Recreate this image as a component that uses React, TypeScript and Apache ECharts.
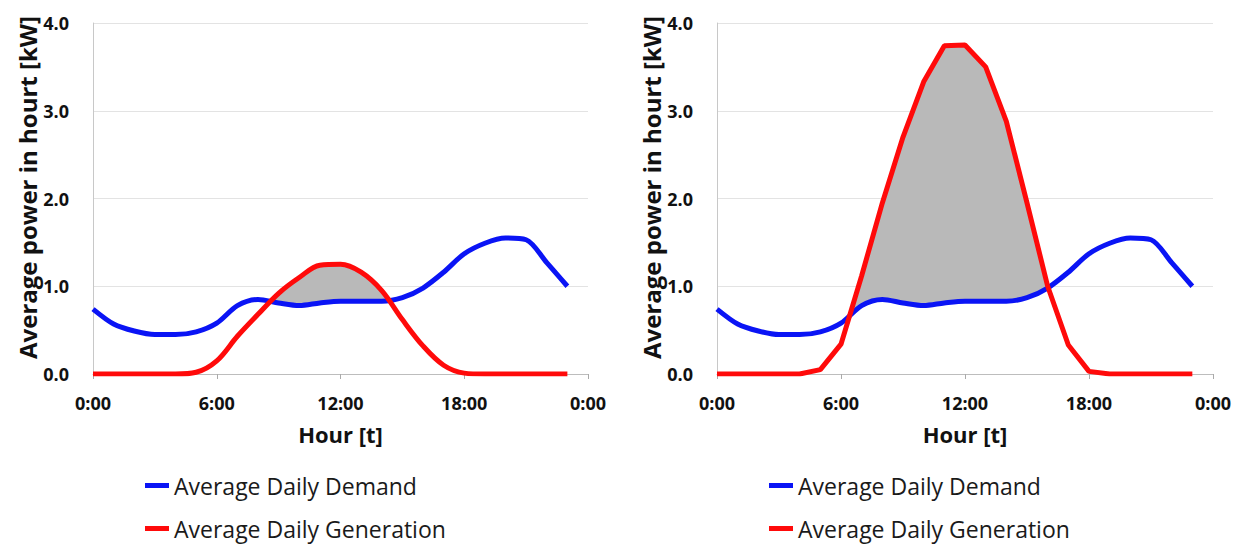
import React, { useEffect, useRef } from "react";
import * as echarts from "echarts";

const HOURS = [0, 1, 2, 3, 4, 5, 6, 7, 8, 9, 10, 11, 12, 13, 14, 15, 16, 17, 18, 19, 20, 21, 22, 23];
const DEMAND = [0.74, 0.57, 0.49, 0.45, 0.45, 0.48, 0.58, 0.78, 0.85, 0.81, 0.78, 0.81, 0.83, 0.83, 0.83, 0.87, 0.98, 1.16, 1.37, 1.49, 1.55, 1.53, 1.27, 1.0];
const GEN_LEFT = [0, 0, 0, 0, 0, 0.02, 0.15, 0.43, 0.68, 0.92, 1.1, 1.24, 1.25, 1.16, 0.95, 0.62, 0.32, 0.1, 0.01, 0, 0, 0, 0, 0];
const GEN_RIGHT = [0, 0, 0, 0, 0, 0.05, 0.34, 1.12, 1.95, 2.7, 3.33, 3.74, 3.75, 3.5, 2.88, 1.95, 1.0, 0.33, 0.03, 0, 0, 0, 0, 0];
const Y_TICKS = [0, 1, 2, 3, 4];
const X_TICK_STEP = 6;

const DEMAND_NAME = "Average Daily Demand";
const GEN_NAME = "Average Daily Generation";
const Y_NAME = "Average power in hourt [kW]";
const X_NAME = "Hour [t]";

function surplusPolys(gen: number[], dem: number[]) {
  const polys: number[][][] = [];
  let upper: number[][] | null = null;
  let lower: number[][] = [];
  const cross = (i: number) => {
    const dp = gen[i - 1] - dem[i - 1];
    const d = gen[i] - dem[i];
    const t = dp / (dp - d);
    const x = HOURS[i - 1] + t * (HOURS[i] - HOURS[i - 1]);
    const y = dem[i - 1] + t * (dem[i] - dem[i - 1]);
    return [x, y];
  };
  for (let i = 0; i < HOURS.length; i++) {
    const d = gen[i] - dem[i];
    if (d > 0) {
      if (!upper) {
        upper = [];
        lower = [];
        if (i > 0) {
          const p = cross(i);
          upper.push(p);
          lower.push(p);
        }
      }
      upper.push([HOURS[i], gen[i]]);
      lower.push([HOURS[i], dem[i]]);
    } else if (upper) {
      const p = cross(i);
      upper.push(p);
      polys.push(upper.concat(lower.slice().reverse()));
      upper = null;
    }
  }
  if (upper) polys.push(upper.concat(lower.slice().reverse()));
  return polys;
}

const FONT = "'Open Sans', 'Noto Sans', sans-serif";

export default function App() {
  const ref = useRef<HTMLDivElement>(null);
  useEffect(() => {
    document.body.style.margin = "0";
    const chart = echarts.init(ref.current!, null, { renderer: "svg" });
    const grids = [
      { left: 93, top: 23, width: 495, height: 351 },
      { left: 717, top: 23, width: 496, height: 351 },
    ];
    const gens = [GEN_LEFT, GEN_RIGHT];
    const xAxes = grids.map((_, i) => ({
      type: "value",
      gridIndex: i,
      min: 0,
      max: 24,
      interval: X_TICK_STEP,
      name: X_NAME,
      nameLocation: "middle",
      nameGap: 49,
      nameTextStyle: { fontFamily: FONT, fontWeight: "bold", fontSize: 22, color: "#111" },
      axisLine: { show: true, lineStyle: { color: "#bdbdbd", width: 1 } },
      axisTick: { show: true, length: 5, lineStyle: { color: "#aaaaaa" } },
      splitLine: { show: false },
      axisLabel: {
        margin: 20,
        fontFamily: FONT,
        fontWeight: "bold",
        fontSize: 18,
        color: "#111",
        formatter: (v: number) => `${v % 24}:00`,
      },
    }));
    const yAxes = grids.map((_, i) => ({
      type: "value",
      gridIndex: i,
      min: Y_TICKS[0],
      max: Y_TICKS[Y_TICKS.length - 1],
      interval: 1,
      name: Y_NAME,
      nameLocation: "middle",
      nameGap: 43,
      nameTextStyle: {
        fontFamily: FONT,
        fontWeight: "bold",
        fontSize: 24,
        color: "#111",
        padding: [0, 0, 0, 22],
      },
      axisLine: { show: true, lineStyle: { color: "#c8c8c8", width: 1 } },
      axisTick: { show: false },
      splitLine: { show: true, lineStyle: { color: "#e3e3e3", width: 1 } },
      axisLabel: {
        margin: 24,
        fontFamily: FONT,
        fontWeight: "bold",
        fontSize: 18,
        color: "#111",
        formatter: (v: number) => v.toFixed(1),
      },
    }));
    const series: any[] = [];
    grids.forEach((_, i) => {
      const gen = gens[i];
      const polys = surplusPolys(gen, DEMAND);
      series.push({
        type: "custom",
        xAxisIndex: i,
        yAxisIndex: i,
        silent: true,
        z: 1,
        data: [[0, 0]],
        renderItem: (params: any, api: any) => ({
          type: "group",
          children: polys.map((poly) => ({
            type: "polygon",
            shape: { points: poly.map((p) => api.coord(p)) },
            style: { fill: "#b9b9b9", stroke: "none" },
          })),
        }),
      });
      series.push({
        type: "line",
        name: DEMAND_NAME,
        xAxisIndex: i,
        yAxisIndex: i,
        data: HOURS.map((h, k) => [h, DEMAND[k]]),
        showSymbol: false,
        smooth: 0.3,
        z: 3,
        lineStyle: { color: "#0a14f5", width: 5 },
        itemStyle: { color: "#0a14f5" },
      });
      series.push({
        type: "line",
        name: GEN_NAME,
        xAxisIndex: i,
        yAxisIndex: i,
        data: HOURS.map((h, k) => [h, gen[k]]),
        showSymbol: false,
        smooth: i === 0 ? 0.35 : false,
        z: 4,
        lineStyle: { color: "#ff0a0a", width: 5 },
        itemStyle: { color: "#ff0a0a" },
      });
    });
    const legendBase = {
      orient: "vertical",
      top: 472,
      height: 78,
      padding: 0,
      icon: "rect",
      itemWidth: 24,
      itemHeight: 5,
      itemGap: 16,
      data: [DEMAND_NAME, GEN_NAME],
      textStyle: { fontFamily: FONT, fontSize: 23, color: "#1a1a1a", lineHeight: 27 },
      selectedMode: false,
    };
    chart.setOption({
      animation: false,
      backgroundColor: "#ffffff",
      grid: grids,
      xAxis: xAxes,
      yAxis: yAxes,
      legend: [
        { ...legendBase, left: 145 },
        { ...legendBase, left: 769 },
      ],
      series,
    });
    return () => chart.dispose();
  }, []);
  return <div ref={ref} style={{ width: 1241, height: 550 }} />;
}
